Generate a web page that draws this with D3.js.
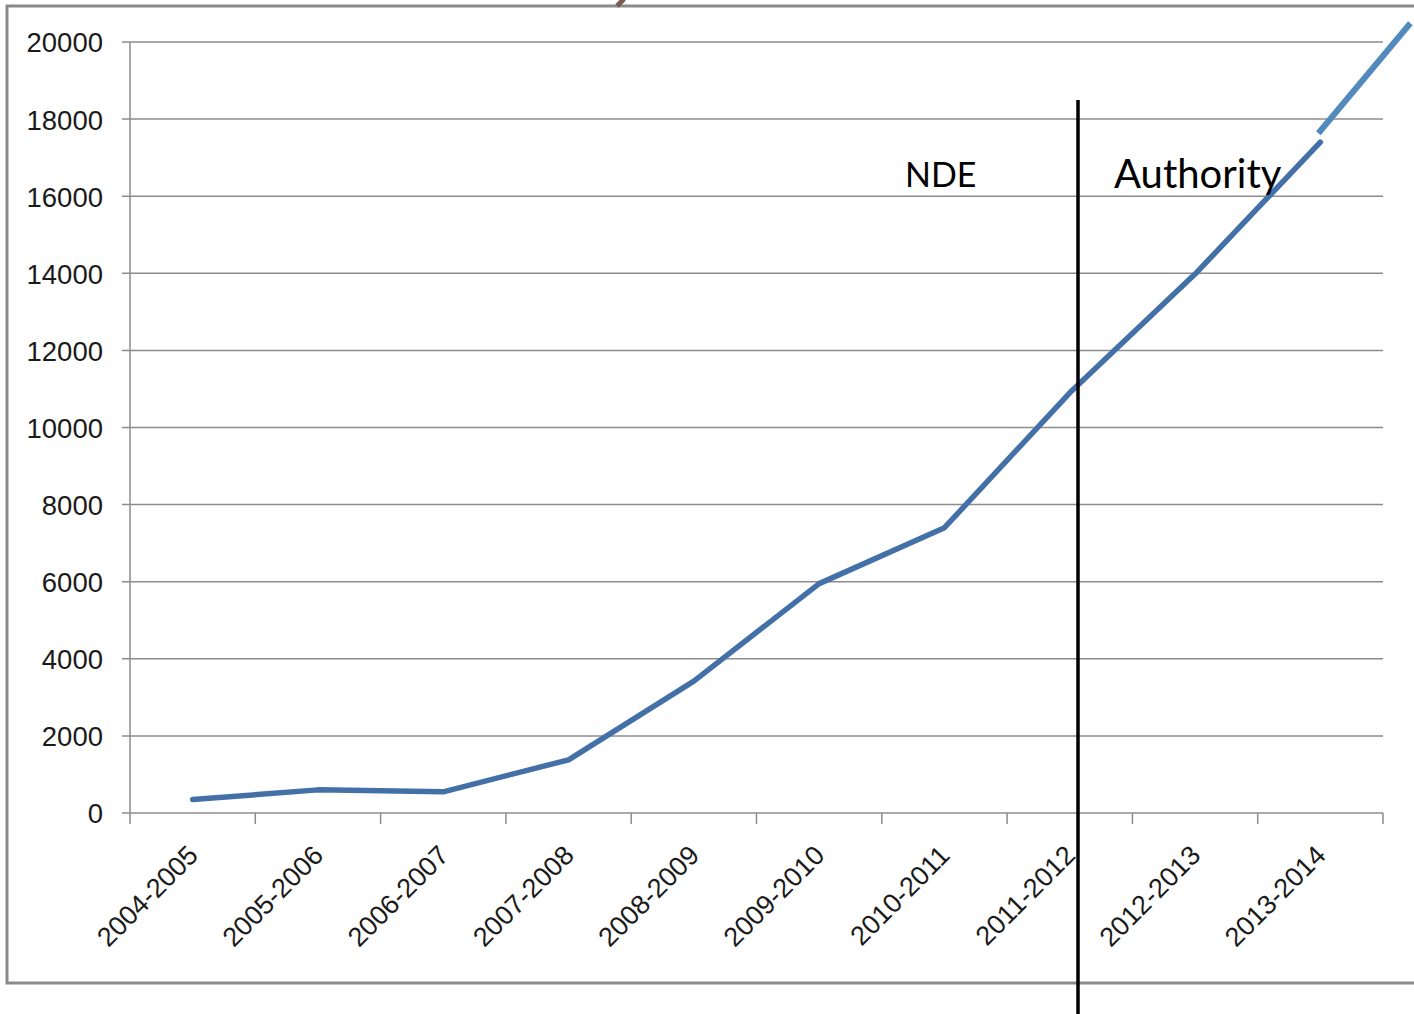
<!DOCTYPE html>
<html>
<head>
<meta charset="utf-8">
<script src="https://cdn.jsdelivr.net/npm/d3@7"></script>
<style>
  html, body { margin: 0; padding: 0; background: #fff; }
  svg { display: block; }
</style>
</head>
<body>
<svg id="chart"></svg>
<script>
// data
const years = ['2004-2005', '2005-2006', '2006-2007', '2007-2008', '2008-2009',
               '2009-2010', '2010-2011', '2011-2012', '2012-2013', '2013-2014'];
const counts = [350, 600, 550, 1380, 3420, 5950, 7400, 10900, 13980, 17400];
const yTicks = [0, 2000, 4000, 6000, 8000, 10000, 12000, 14000, 16000, 18000, 20000];
const phases = ['NDE', 'Authority'];

const width = 1414;
const height = 1014;
const margin = { top: 42, right: 31, bottom: 201, left: 130 };

const svg = d3.select('#chart')
  .attr('width', width)
  .attr('height', height);

// slide frame
svg.append('rect')
  .attr('x', 7).attr('y', 6)
  .attr('width', width + 10).attr('height', 977)
  .attr('fill', 'none')
  .attr('stroke', '#8a8a8a')
  .attr('stroke-width', 3);

// little brown mark poking in from the slide above
svg.append('line')
  .attr('x1', 617).attr('y1', 6).attr('x2', 624).attr('y2', -1)
  .attr('stroke', '#7a5c52').attr('stroke-width', 5);

const x = d3.scaleBand()
  .domain(years)
  .range([margin.left, width - margin.right]);

const y = d3.scaleLinear()
  .domain([0, 20000])
  .range([height - margin.bottom, margin.top]);

// gridlines
svg.append('g')
  .selectAll('line')
  .data(yTicks)
  .join('line')
  .attr('x1', margin.left - 8)
  .attr('x2', width - margin.right)
  .attr('y1', d => y(d))
  .attr('y2', d => y(d))
  .attr('stroke', '#8c8c8c')
  .attr('stroke-width', 1.5);

// y axis line + labels
svg.append('line')
  .attr('x1', margin.left).attr('x2', margin.left)
  .attr('y1', y(20000)).attr('y2', y(0))
  .attr('stroke', '#8c8c8c').attr('stroke-width', 1.5);

svg.append('g')
  .selectAll('text')
  .data(yTicks)
  .join('text')
  .attr('x', 103)
  .attr('y', d => y(d))
  .attr('dy', '0.38em')
  .attr('text-anchor', 'end')
  .style('font', '27.5px "Liberation Sans", Arial, sans-serif')
  .attr('fill', '#1a1a1a')
  .text(d => d);

// x axis ticks at band edges
const edges = years.map(d => x(d)).concat([x.range()[1]]);
svg.append('g')
  .selectAll('line')
  .data(edges)
  .join('line')
  .attr('x1', d => d).attr('x2', d => d)
  .attr('y1', y(0)).attr('y2', y(0) + 11)
  .attr('stroke', '#8c8c8c').attr('stroke-width', 1.5);

svg.append('g')
  .selectAll('text')
  .data(years)
  .join('text')
  .attr('transform', d => `translate(${x(d) + x.bandwidth() / 2 + 7},${y(0) + 44}) rotate(-45)`)
  .attr('text-anchor', 'end')
  .style('font', '27px "Liberation Sans", Arial, sans-serif')
  .attr('fill', '#1a1a1a')
  .text(d => d);

// the series
const line = d3.line()
  .x((d, i) => x(years[i]) + x.bandwidth() / 2)
  .y(d => y(d));

svg.append('path')
  .datum(counts)
  .attr('d', line)
  .attr('fill', 'none')
  .attr('stroke', '#4470a8')
  .attr('stroke-width', 5.5)
  .attr('stroke-linecap', 'round')
  .attr('stroke-linejoin', 'round');

// hand-drawn arrow continuing the trend off the chart
const lastX = x(years[years.length - 1]) + x.bandwidth() / 2;
svg.append('line')
  .attr('x1', lastX - 2).attr('y1', y(counts[counts.length - 1]) - 9)
  .attr('x2', lastX + 90).attr('y2', y(17400) - 119)
  .attr('stroke', '#528abd')
  .attr('stroke-width', 6);

// NDE / Authority divider
const divX = 1078;
svg.append('line')
  .attr('x1', divX).attr('x2', divX)
  .attr('y1', 100).attr('y2', height)
  .attr('stroke', '#000')
  .attr('stroke-width', 3.5);

svg.append('text')
  .attr('x', 905).attr('y', 187)
  .style('font', '34px Lato, "Noto Sans", sans-serif')
  .attr('fill', '#000')
  .text(phases[0]);

svg.append('text')
  .attr('x', 1114).attr('y', 188)
  .style('font', '40px Lato, "Noto Sans", sans-serif')
  .attr('fill', '#000')
  .text(phases[1]);
</script>
</body>
</html>
